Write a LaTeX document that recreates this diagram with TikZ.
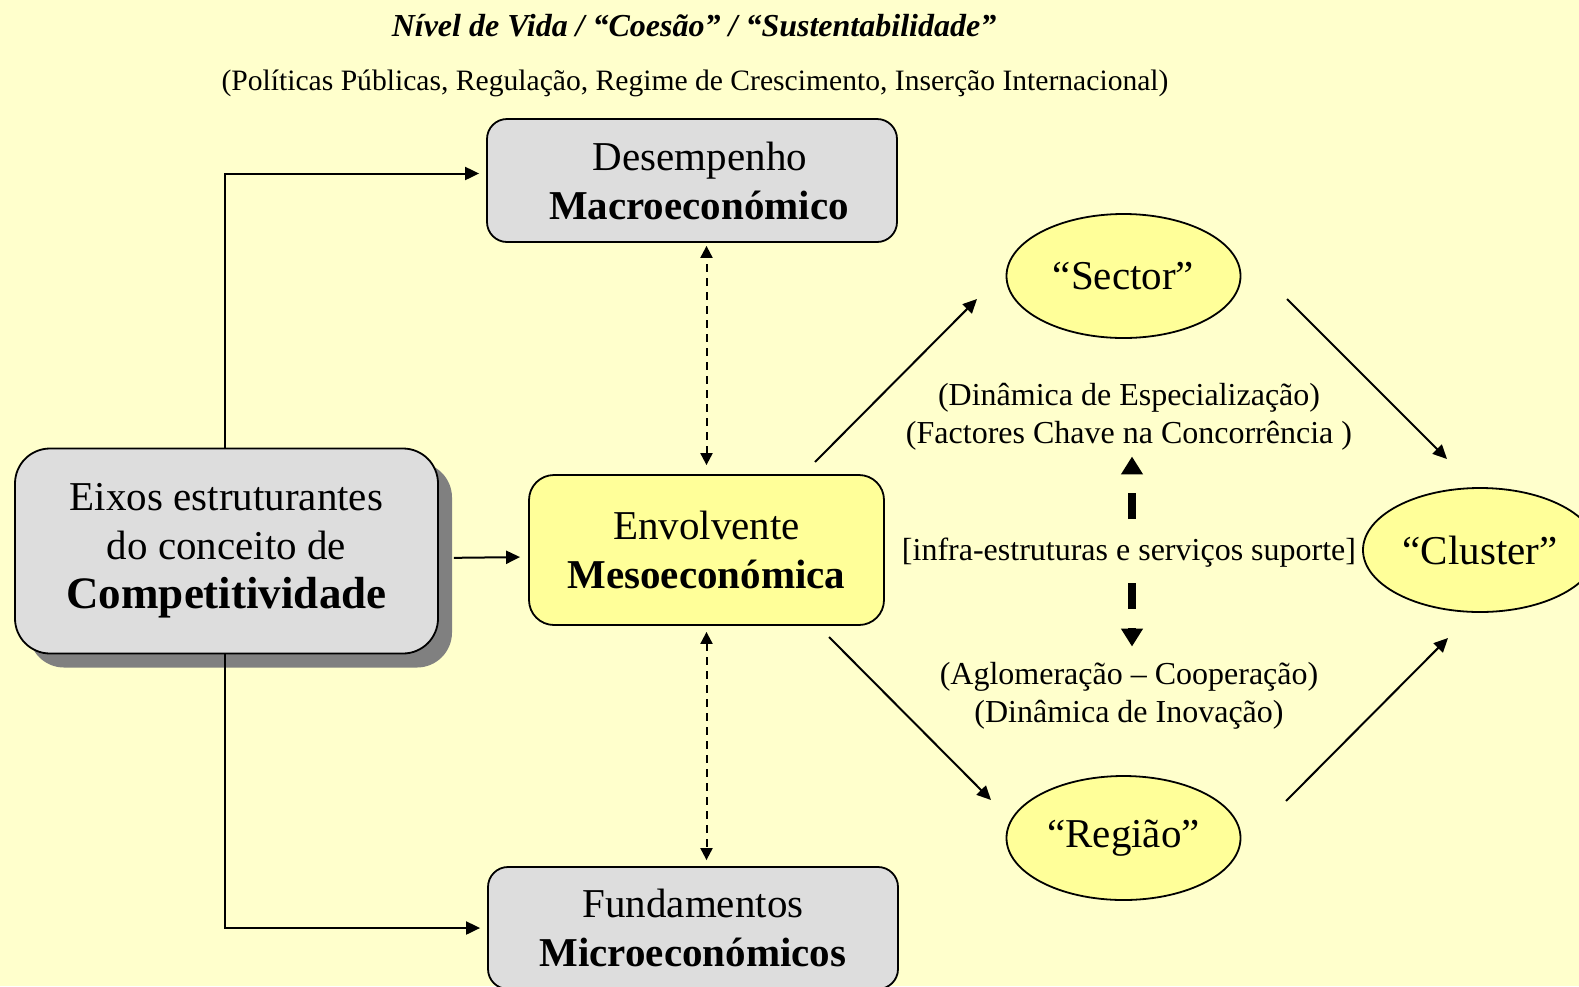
\documentclass[tikz,border=0pt]{standalone}
\usepackage{fontspec}
\setmainfont{Liberation Serif}
\usepackage{xcolor}
\usepackage{tikz}
\usetikzlibrary{positioning,shapes.geometric,shadows,arrows.meta}

\definecolor{bgyellow}{HTML}{FFFFCC}
\definecolor{boxgrey}{HTML}{DDDDDD}
\definecolor{mesoyellow}{HTML}{FFFF99}

\tikzset{
    box/.style={draw,
        line width=1.8pt,
        rounded corners=20pt,
        fill=boxgrey,
        align=center,
        inner sep=0pt,
        font=\fontsize{41}{49}\selectfont},
    oval/.style={draw,
        ellipse,
        line width=1.8pt,
        fill=mesoyellow,
        minimum width=234pt,
        minimum height=124pt,
        inner sep=0pt,
        font=\fontsize{41}{49}\selectfont},
    note/.style={align=center,
        inner sep=0pt,
        font=\fontsize{32}{37.5}\selectfont},
    link/.style={line width=2pt,
        -{Triangle[length=14pt,width=13pt]}},
    dlink/.style={line width=2pt,
        dash pattern=on 8pt off 6pt,
        {Triangle[length=12pt,width=12pt]}-{Triangle[length=12pt,width=12pt]}},
    biglink/.style={line width=8pt,
        dash pattern=on 26pt off 19pt,
        -{Triangle[length=18pt,width=21pt]}}
}

\begin{document}
\begin{tikzpicture}[x=1pt,y=-1pt]

    \fill[bgyellow] (0,0) rectangle (1579,986);
    \useasboundingbox (0,0) rectangle (1579,986);

    \node[font=\fontsize{32}{38}\selectfont\bfseries\itshape]
        (title) at (694,26)
        {Nível de Vida / “Coesão” / “Sustentabilidade”};

    \node[font=\fontsize{29.6}{36}\selectfont]
        (policies) at (695,83)
        {(Políticas Públicas, Regulação, Regime de Crescimento, Inserção Internacional)};

    \node[box,
        rounded corners=35pt,
        minimum width=423pt,
        minimum height=205pt,
        drop shadow={shadow xshift=14pt, shadow yshift=-14pt,
            fill=black!50, opacity=1}]
        (eixos) at (226.5,551)
        {Eixos estruturantes\\do conceito de\\{\fontsize{45}{50}\selectfont\bfseries Competitividade}};

    \node[box,
        fill=mesoyellow,
        rounded corners=25pt,
        minimum width=355pt,
        minimum height=150pt]
        (meso) at (706.5,550) {Envolvente\\\textbf{Mesoeconómica}};

    \node[box,
        minimum width=410pt,
        minimum height=123pt]
        (macro) at (692,180.5)
        {\hspace*{16pt}Desempenho\\\hspace*{14pt}\textbf{Macroeconómico}};

    \node[box,
        minimum width=410pt,
        minimum height=122pt]
        (micro) at (693,928) {Fundamentos\\\textbf{Microeconómicos}};

    \node[oval] (sector) at (1123.5,276) {“Sector”};
    \node[oval] (regiao) at (1123.5,838) {“Região”};
    \node[oval] (cluster) at (1480,550) {“Cluster”};

    \node[note] (espec) at (1129,417)
        {(Dinâmica de Especialização)\\(Factores Chave na Concorrência )};
    \node[note] (infra) at (1129,553)
        {[infra-estruturas e serviços suporte]};
    \node[note] (aglom) at (1129,696)
        {(Aglomeração – Cooperação)\\(Dinâmica de Inovação)};

    % free ends of the diagonal arrows
    \coordinate (mesoup) at (815,462);
    \coordinate (sectorin) at (977,299);
    \coordinate (sectorout) at (1287,299);
    \coordinate (clusterup) at (1447,459);
    \coordinate (mesodown) at (829,637);
    \coordinate (regiaoin) at (991,800);
    \coordinate (regiaoout) at (1286,801);
    \coordinate (clusterdown) at (1448,638);

    \draw[link, shorten >=7pt] ([xshift=-2pt]eixos.north) |- ([yshift=7pt]macro.west);
    \draw[link, shorten >=7pt] ([xshift=-2pt]eixos.south) |- (micro.west);
    \draw[link, shorten <=15pt, shorten >=8pt] ([yshift=-7pt]eixos.east) -- ([yshift=-7pt]meso.west);

    \draw[dlink, shorten <=9pt, shorten >=3pt] (meso.north) -- (meso.north |- macro.south);
    \draw[dlink, shorten <=6pt, shorten >=6pt] (meso.south) -- (meso.south |- micro.north);

    \draw[link] (mesoup) -- (sectorin);
    \draw[link] (sectorout) -- (clusterup);
    \draw[link] (mesodown) -- (regiaoin);
    \draw[link] (regiaoout) -- (clusterdown);

    \draw[biglink, shorten <=19pt, shorten >=6pt]
        ([xshift=3pt]infra.north) -- ([xshift=3pt]infra.north |- espec.south);
    \draw[biglink, shorten <=15.5pt, shorten >=16pt]
        ([xshift=3pt]infra.south) -- ([xshift=3pt]infra.south |- aglom.north);

\end{tikzpicture}
\end{document}
